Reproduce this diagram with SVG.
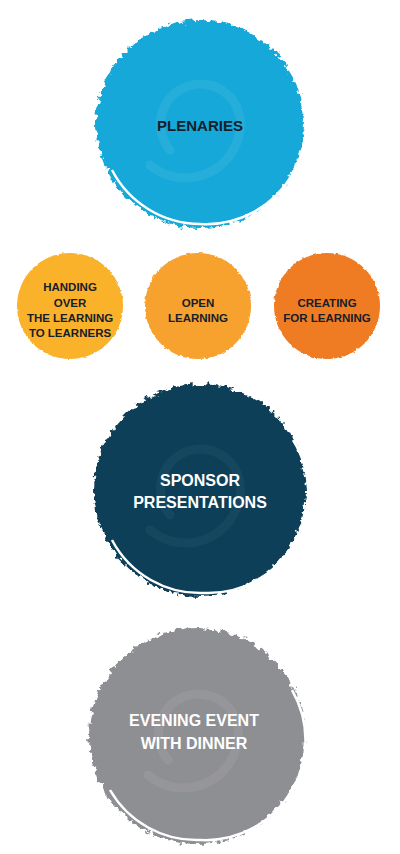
<svg xmlns="http://www.w3.org/2000/svg" width="400" height="854" viewBox="0 0 400 854">
<defs>
<filter id="rough" x="-10%" y="-10%" width="120%" height="120%">
<feTurbulence type="fractalNoise" baseFrequency="0.18" numOctaves="3" seed="4" result="n"/>
<feDisplacementMap in="SourceGraphic" in2="n" scale="9" xChannelSelector="R" yChannelSelector="G"/>
</filter>
<filter id="soft" x="-10%" y="-10%" width="120%" height="120%">
<feTurbulence type="fractalNoise" baseFrequency="0.25" numOctaves="2" seed="7" result="n"/>
<feDisplacementMap in="SourceGraphic" in2="n" scale="3" xChannelSelector="R" yChannelSelector="G"/>
</filter>
</defs>
<style>
.t{font-family:"Liberation Sans",Arial,sans-serif;font-weight:bold;text-anchor:middle}
.dark{fill:#15202b}
.light{fill:#ffffff}
.gap{fill:none;stroke:#ffffff;stroke-width:2.5}
.swirl{fill:none;stroke-width:9;stroke-linecap:round;opacity:0.07}
</style>
<rect width="400" height="854" fill="#ffffff"/>

<g id="plenaries">
<g filter="url(#rough)">
<circle cx="200" cy="124" r="104" fill="#12a8d8"/>
</g>
<path class="gap" d="M290,70 A100,100 0 0 1 200,224 A100,100 0 0 1 112,170" />
<path class="swirl" stroke="#ffffff" d="M170,150 A40,40 0 1 1 240,130 A55,55 0 0 1 150,165"/>
<text class="t dark" x="200" y="131" font-size="15">PLENARIES</text>
</g>

<g id="handing-over">
<g filter="url(#soft)"><circle cx="70" cy="306" r="53" fill="#f9b22c"/></g>
<text class="t dark" font-size="11.5"><tspan x="70" y="291">HANDING</tspan><tspan x="70" y="307">OVER</tspan><tspan x="70" y="322">THE LEARNING</tspan><tspan x="70" y="337">TO LEARNERS</tspan></text>
</g>

<g id="open-learning">
<g filter="url(#soft)"><circle cx="198" cy="306" r="53" fill="#f7a12f"/></g>
<text class="t dark" font-size="11.5"><tspan x="198" y="307">OPEN</tspan><tspan x="198" y="322">LEARNING</tspan></text>
</g>

<g id="creating-for-learning">
<g filter="url(#soft)"><circle cx="327" cy="306" r="53" fill="#ef7b22"/></g>
<text class="t dark" font-size="11.5"><tspan x="327" y="307">CREATING</tspan><tspan x="327" y="322">FOR LEARNING</tspan></text>
</g>

<g id="sponsor-presentations">
<g filter="url(#rough)">
<circle cx="200" cy="490" r="106" fill="#0f3f58"/>
</g>
<path class="gap" d="M293,440 A100,100 0 0 1 205,593 A100,100 0 0 1 112,540" />
<path class="swirl" stroke="#7fb0c8" d="M170,515 A40,40 0 1 1 240,495 A55,55 0 0 1 150,530"/>
<text class="t light" font-size="16"><tspan x="200" y="486">SPONSOR</tspan><tspan x="200" y="508">PRESENTATIONS</tspan></text>
</g>

<g id="evening-event">
<g filter="url(#rough)">
<circle cx="197" cy="736" r="108" fill="#8e8f93"/>
</g>
<path class="gap" d="M292,690 A100,100 0 0 1 200,840 A100,100 0 0 1 110,790" />
<path class="swirl" stroke="#ffffff" d="M168,760 A40,40 0 1 1 238,740 A55,55 0 0 1 148,775"/>
<text class="t light" font-size="16"><tspan x="194" y="726">EVENING EVENT</tspan><tspan x="194" y="749">WITH DINNER</tspan></text>
</g>
</svg>
